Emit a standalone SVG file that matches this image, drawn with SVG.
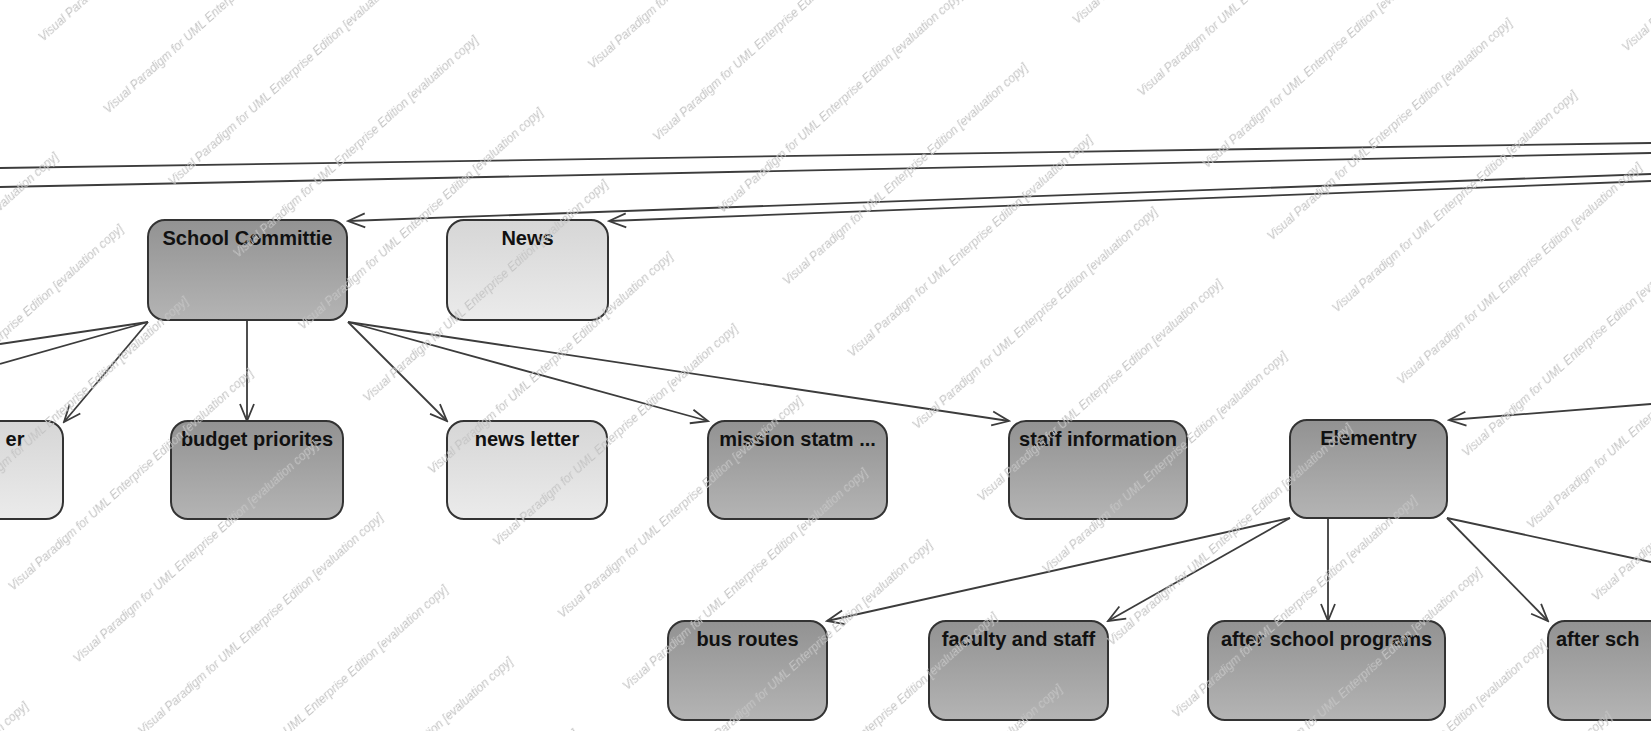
<svg xmlns="http://www.w3.org/2000/svg" width="1651" height="731" viewBox="0 0 1651 731">
  <style>
    .node rect { stroke: #333333; stroke-width: 2; }
    .dark rect { fill: url(#gDark); }
    .light rect { fill: url(#gLight); }
    .node text { font-family: "Liberation Sans", Arial, sans-serif; font-size: 20px; font-weight: bold; fill: #111111; text-anchor: middle; }
    #connectors line { stroke: #3c3c3c; stroke-width: 1.8; fill: none; }
    #connectors line.arrow { marker-end: url(#openArrow); }
    .wm { font-family: "Liberation Sans", Arial, sans-serif; font-size: 12px; font-style: italic; fill: #c4c4c4; }
  </style>
  <defs>
    <linearGradient id="gDark" x1="0" y1="0" x2="0" y2="1">
      <stop offset="0" stop-color="#929292"/>
      <stop offset="1" stop-color="#b4b4b4"/>
    </linearGradient>
    <linearGradient id="gLight" x1="0" y1="0" x2="0" y2="1">
      <stop offset="0" stop-color="#d6d6d6"/>
      <stop offset="1" stop-color="#ebebeb"/>
    </linearGradient>
    <marker id="openArrow" markerUnits="userSpaceOnUse" viewBox="-20 -10 22 20" refX="0" refY="0" markerWidth="22" markerHeight="20" orient="auto">
      <path d="M-17,-7 L0,0 L-17,7" fill="none" stroke="#3c3c3c" stroke-width="1.8"/>
    </marker>
    <pattern id="watermark" patternUnits="userSpaceOnUse" width="390" height="97" patternTransform="rotate(-42)">
      <text class="wm" x="4" y="60">Visual Paradigm for UML Enterprise Edition [evaluation copy]</text>
    </pattern>
  </defs>

  <rect x="0" y="0" width="1651" height="731" fill="#ffffff"/>

  <g id="connectors">
    <line x1="0" y1="168" x2="1651" y2="143"/>
    <line x1="0" y1="187" x2="1651" y2="153"/>
    <line class="arrow" x1="1651" y1="174" x2="348" y2="221"/>
    <line class="arrow" x1="1651" y1="181" x2="609" y2="221"/>
    <line x1="148" y1="322" x2="0" y2="344"/>
    <line x1="148" y1="322" x2="0" y2="364"/>
    <line class="arrow" x1="148" y1="322" x2="64" y2="422"/>
    <line class="arrow" x1="247" y1="320" x2="247" y2="421"/>
    <line class="arrow" x1="348" y1="322" x2="447" y2="421"/>
    <line class="arrow" x1="348" y1="322" x2="708" y2="421"/>
    <line class="arrow" x1="348" y1="322" x2="1009" y2="421"/>
    <line class="arrow" x1="1651" y1="404" x2="1449" y2="420"/>
    <line class="arrow" x1="1290" y1="518" x2="827" y2="621"/>
    <line class="arrow" x1="1290" y1="518" x2="1108" y2="621"/>
    <line class="arrow" x1="1328" y1="518" x2="1328" y2="621"/>
    <line class="arrow" x1="1447" y1="518" x2="1548" y2="621"/>
    <line x1="1447" y1="518" x2="1651" y2="562"/>
  </g>

  <g id="schoolCommittie" class="node dark">
    <rect x="148" y="220" width="199" height="100" rx="17"/>
    <text x="247.5" y="245">School Committie</text>
  </g>
  <g id="news" class="node light">
    <rect x="447" y="220" width="161" height="100" rx="17"/>
    <text x="527.5" y="245">News</text>
  </g>
  <g id="leftNode" class="node light">
    <rect x="-40" y="421" width="103" height="98" rx="17"/>
    <text x="15" y="446">er</text>
  </g>
  <g id="budgetPriorites" class="node dark">
    <rect x="171" y="421" width="172" height="98" rx="17"/>
    <text x="257" y="446">budget priorites</text>
  </g>
  <g id="newsLetter" class="node light">
    <rect x="447" y="421" width="160" height="98" rx="17"/>
    <text x="527" y="446">news letter</text>
  </g>
  <g id="missionStatm" class="node dark">
    <rect x="708" y="421" width="179" height="98" rx="17"/>
    <text x="797.5" y="446">mission statm ...</text>
  </g>
  <g id="staffInformation" class="node dark">
    <rect x="1009" y="421" width="178" height="98" rx="17"/>
    <text x="1098" y="446">staff information</text>
  </g>
  <g id="elementry" class="node dark">
    <rect x="1290" y="420" width="157" height="98" rx="17"/>
    <text x="1368.5" y="445">Elementry</text>
  </g>
  <g id="busRoutes" class="node dark">
    <rect x="668" y="621" width="159" height="99" rx="17"/>
    <text x="747.5" y="646">bus routes</text>
  </g>
  <g id="facultyAndStaff" class="node dark">
    <rect x="929" y="621" width="179" height="99" rx="17"/>
    <text x="1018.5" y="646">faculty and staff</text>
  </g>
  <g id="afterSchoolPrograms" class="node dark">
    <rect x="1208" y="621" width="237" height="99" rx="17"/>
    <text x="1326.5" y="646">after school programs</text>
  </g>
  <g id="afterSchRight" class="node dark">
    <rect x="1548" y="621" width="160" height="99" rx="17"/>
    <text x="1556" y="646" style="text-anchor:start">after sch</text>
  </g>

  <!-- evaluation watermark drawn over the whole sheet -->
  <rect id="watermarkLayer" x="0" y="0" width="1651" height="731" fill="url(#watermark)" pointer-events="none"/>
</svg>
